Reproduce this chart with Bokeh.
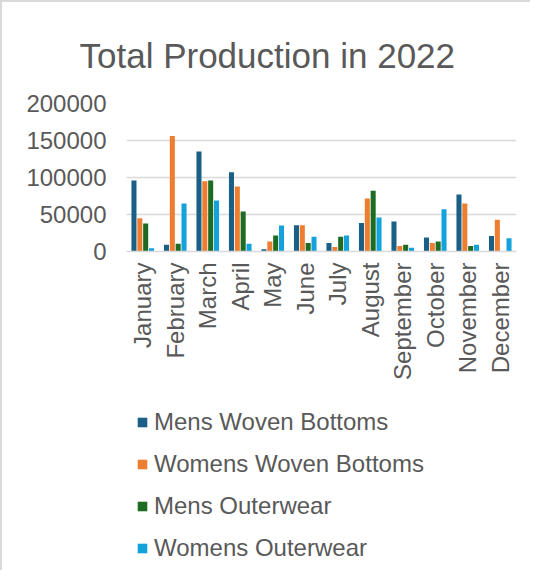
from bokeh.plotting import figure
from bokeh.models import Legend, LegendItem, ColumnDataSource, FactorRange
from bokeh.layouts import column
from bokeh.transform import dodge
from bokeh.embed import file_html
from bokeh.resources import INLINE
import math

months = ["January", "February", "March", "April", "May", "June", "July",
          "August", "September", "October", "November", "December"]
mens_woven = [96000, 9000, 135000, 107000, 3000, 35500, 11500, 38500, 40500, 19000, 77000, 21000]
womens_woven = [45000, 156000, 95000, 88000, 13500, 35500, 6000, 71500, 7500, 11500, 65000, 43000]
mens_outer = [38000, 10500, 96000, 54000, 21500, 11500, 20000, 82000, 9000, 13500, 7500, 500]
womens_outer = [4500, 65000, 69000, 10500, 35000, 20000, 21500, 46000, 5000, 57000, 9000, 18000]
series_names = ["Mens Woven Bottoms", "Womens Woven Bottoms", "Mens Outerwear", "Womens Outerwear"]
colors = ["#1a5f86", "#ed7d31", "#1e6b24", "#14a2dc"]
y_ticks = [0, 50000, 100000, 150000, 200000]

src = ColumnDataSource(dict(month=months, s0=mens_woven, s1=womens_woven,
                            s2=mens_outer, s3=womens_outer))

TXT = "#595959"
FONT = "Liberation Sans"
BORDER = "2px solid #d9d9d9"

p = figure(x_range=FactorRange(*months), y_range=(0, 200000),
           width=530, height=387, output_backend="svg", toolbar_location=None,
           min_border_left=124, min_border_right=16, min_border_top=101,
           min_border_bottom=138)

p.title.text = "Total Production in 2022"
p.title.text_font = FONT
p.title.text_font_size = "35px"
p.title.text_font_style = "normal"
p.title.text_color = TXT
p.title.align = "left"
p.title.offset = -47
p.title.standoff = 58

offsets = [-0.27, -0.09, 0.09, 0.27]
for i, (name, col) in enumerate(zip(series_names, colors)):
    p.vbar(x=dodge("month", offsets[i], range=p.x_range), top="s%d" % i,
           width=0.155, source=src, fill_color=col, line_color=None)

p.outline_line_color = None
p.xgrid.grid_line_color = None
p.ygrid.grid_line_color = "#d9d9d9"
p.ygrid.grid_line_width = 1.5
p.yaxis.ticker = y_ticks
p.yaxis.axis_line_color = None
p.yaxis.major_tick_line_color = None
p.yaxis.minor_tick_line_color = None
p.yaxis.major_label_standoff = 14
p.yaxis.major_label_text_font = FONT
p.yaxis.major_label_text_font_size = "24px"
p.yaxis.major_label_text_color = TXT
p.yaxis.formatter.use_scientific = False

p.xaxis.axis_line_color = "#d9d9d9"
p.xaxis.axis_line_width = 1.5
p.xaxis.major_tick_line_color = None
p.xaxis.minor_tick_line_color = None
p.xaxis.major_label_orientation = math.pi / 2
p.xaxis.major_label_standoff = 5
p.xaxis.major_label_text_font = FONT
p.xaxis.major_label_text_font_size = "24px"
p.xaxis.major_label_text_color = TXT
p.x_range.range_padding = 0
p.styles = {"border-left": BORDER, "border-top": BORDER}

# legend-only figure: hidden copies of the bars feed the legend entries
q = figure(x_range=FactorRange(*months), y_range=(0, 200000),
           width=530, height=183, output_backend="svg", toolbar_location=None,
           min_border=0, min_border_left=124, min_border_right=16)
items = []
for i, (name, col) in enumerate(zip(series_names, colors)):
    r = q.vbar(x=dodge("month", offsets[i], range=q.x_range), top="s%d" % i,
               width=0.155, source=src, fill_color=col, line_color=None,
               visible=False)
    items.append(LegendItem(label=name, renderers=[r]))
q.axis.visible = False
q.grid.visible = False
q.outline_line_color = None
legend = Legend(items=items, orientation="vertical", location=(10, 8),
                label_text_font=FONT, label_text_font_size="24px",
                label_text_color=TXT, glyph_width=12, glyph_height=12,
                label_standoff=6, spacing=14, border_line_color=None,
                background_fill_alpha=0, margin=0, padding=0,
                inactive_fill_alpha=0, click_policy="none")
q.add_layout(legend, "center")
q.styles = {"border-left": BORDER}

layout = column(p, q)

open("out.html", "w").write(file_html(layout, INLINE))
